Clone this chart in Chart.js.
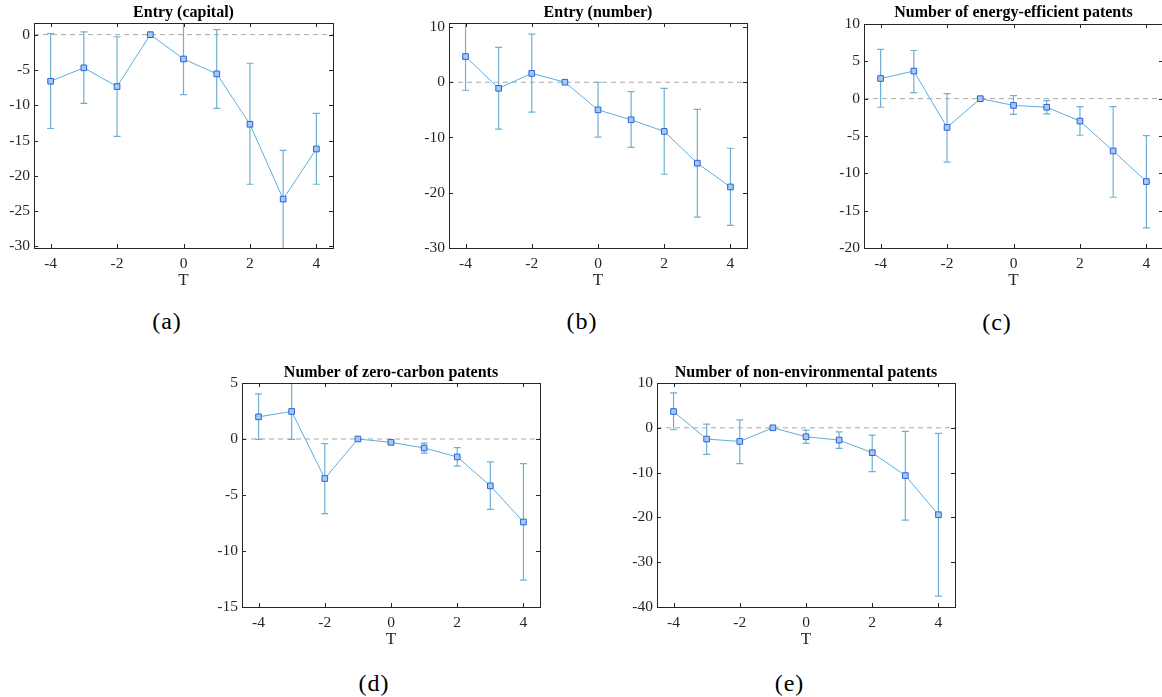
<!DOCTYPE html>
<html><head><meta charset="utf-8">
<script src="https://cdn.jsdelivr.net/npm/chart.js@4.4.1/dist/chart.umd.min.js"></script>
<style>
html,body{margin:0;padding:0;background:#fff;width:1162px;height:697px;overflow:hidden;position:relative}
canvas{position:absolute}
.cap{position:absolute;width:100px;text-align:center;font-family:'Liberation Serif',serif;font-size:24px;line-height:24px;color:#000;letter-spacing:1px}
</style></head><body>
<canvas id="pa"></canvas><canvas id="pb"></canvas><canvas id="pc"></canvas><canvas id="pd"></canvas><canvas id="pe"></canvas>
<div class="cap" id="ca">(a)</div><div class="cap" id="cb">(b)</div><div class="cap" id="cc">(c)</div><div class="cap" id="cd">(d)</div><div class="cap" id="ce">(e)</div>
<script>
// ---- data ----
const T = [-4, -3, -2, -1, 0, 1, 2, 3, 4];
const xTicks = [-4, -2, 0, 2, 4];

const capitalEst  = [-6.6, -4.7, -7.35, 0, -3.45, -5.55, -12.7, -23.3, -16.2];
const capitalLow  = [-13.3, -9.75, -14.4, 0, -8.5, -10.45, -21.2, -30.4, -21.2];
const capitalHigh = [0.15, 0.4, -0.3, 0, 1.7, 0.7, -4.05, -16.4, -11.15];
const capitalTicks = [-30, -25, -20, -15, -10, -5, 0];

const numberEst  = [4.65, -1.1, 1.6, 0, -5.0, -6.8, -8.9, -14.65, -18.95];
const numberLow  = [-1.45, -8.5, -5.4, 0, -9.95, -11.8, -16.65, -24.4, -25.9];
const numberHigh = [10.8, 6.3, 8.7, 0, 0, -1.7, -1.1, -4.9, -11.95];
const numberTicks = [-30, -20, -10, 0, 10];

const energyEst  = [2.7, 3.7, -3.85, 0, -0.9, -1.15, -3.0, -7.0, -11.1];
const energyLow  = [-1.15, 0.8, -8.5, 0, -2.1, -2.05, -4.9, -13.2, -17.3];
const energyHigh = [6.6, 6.45, 0.67, 0, 0.4, -0.27, -1.07, -1.07, -4.95];
const energyTicks = [-20, -15, -10, -5, 0, 5, 10];

const zeroEst  = [1.98, 2.46, -3.53, 0, -0.3, -0.8, -1.6, -4.18, -7.41];
const zeroLow  = [-0.03, -0.03, -6.67, 0, -0.4, -1.27, -2.43, -6.28, -12.6];
const zeroHigh = [4.03, 5.1, -0.41, 0, -0.2, -0.36, -0.77, -2.04, -2.19];
const zeroTicks = [-15, -10, -5, 0, 5];

const nonEnvEst  = [3.63, -2.52, -3.04, 0, -2.0, -2.74, -5.56, -10.67, -19.4];
const nonEnvLow  = [-0.44, -5.93, -8.0, 0, -3.48, -4.6, -9.78, -20.6, -37.56];
const nonEnvHigh = [7.78, 0.81, 1.78, 0, -0.52, -0.89, -1.63, -0.81, -1.26];
const nonEnvTicks = [-40, -30, -20, -10, 0, 10];

// ---- plugins ----
const errorBars = {
  id: 'errorBars',
  beforeDatasetsDraw(chart, args, o) {
    const {ctx, chartArea: a, scales: {x, y}} = chart;
    ctx.save();
    ctx.beginPath(); ctx.rect(a.left, a.top, a.right - a.left, a.bottom - a.top); ctx.clip();
    const y0 = y.getPixelForValue(0);
    ctx.strokeStyle = '#a8a8a8'; ctx.lineWidth = 1; ctx.setLineDash([5, 4]);
    ctx.beginPath(); ctx.moveTo(a.left, y0); ctx.lineTo(a.right, y0); ctx.stroke();
    ctx.setLineDash([]);
    ctx.strokeStyle = o.color; ctx.lineWidth = o.width;
    o.xs.forEach((t, i) => {
      if (o.low[i] === o.high[i]) return;
      const px = x.getPixelForValue(t);
      const pl = y.getPixelForValue(o.low[i]);
      const ph = y.getPixelForValue(o.high[i]);
      ctx.beginPath();
      ctx.moveTo(px, pl); ctx.lineTo(px, ph);
      ctx.moveTo(px - o.cap, pl); ctx.lineTo(px + o.cap, pl);
      ctx.moveTo(px - o.cap, ph); ctx.lineTo(px + o.cap, ph);
      ctx.stroke();
    });
    ctx.restore();
  }
};
const matBox = {
  id: 'matBox',
  afterDraw(chart) {
    const {ctx, chartArea: a, scales: {x, y}} = chart;
    ctx.save();
    ctx.strokeStyle = '#262626'; ctx.lineWidth = 1;
    ctx.strokeRect(Math.round(a.left) + 0.5, Math.round(a.top) + 0.5, Math.round(a.right - a.left), Math.round(a.bottom - a.top));
    const L = 4;
    ctx.beginPath();
    x.ticks.forEach(t => {
      const px = Math.round(x.getPixelForValue(t.value)) + 0.5;
      ctx.moveTo(px, a.bottom); ctx.lineTo(px, a.bottom - L);
      ctx.moveTo(px, a.top); ctx.lineTo(px, a.top + L);
    });
    y.ticks.forEach(t => {
      const py = Math.round(y.getPixelForValue(t.value)) + 0.5;
      ctx.moveTo(a.left, py); ctx.lineTo(a.left + L, py);
      ctx.moveTo(a.right, py); ctx.lineTo(a.right - L, py);
    });
    ctx.stroke();
    ctx.restore();
  }
};

Chart.defaults.font.family = "'Liberation Serif', serif";

function panel(id, box, title, titleY, yMin, yMax, yTicks, est, low, high, capId, capX, capY) {
  const W = box.r - box.l, H = box.b - box.t;
  const padL = 50, padT = 40, padR = 10, padB = 50;
  const cv = document.getElementById(id);
  cv.width = W + padL + padR; cv.height = H + padT + padB;
  cv.style.left = (box.l - padL) + 'px'; cv.style.top = (box.t - padT) + 'px';
  const titleH = 2 * (box.t - titleY);
  new Chart(cv, {
    type: 'line',
    data: {
      datasets: [{
        data: T.map((t, i) => ({x: t, y: est[i]})),
        borderColor: '#5aaee0', borderWidth: 1, tension: 0,
        pointStyle: 'rect', pointRadius: 4, pointBorderWidth: 1,
        pointBorderColor: '#2c62d8', pointBackgroundColor: '#a6c8f5'
      }]
    },
    options: {
      responsive: false, animation: false, devicePixelRatio: 1,
      layout: {padding: {left: 0, right: padR, top: padT - titleH, bottom: 0}},
      plugins: {
        legend: {display: false}, tooltip: {enabled: false},
        title: {display: true, fullSize: false, text: title, color: '#000', padding: 0,
          font: {size: 16, weight: 'bold', lineHeight: titleH / 16}},
        errorBars: {xs: T, low: low, high: high, color: '#6fb0d2', width: 1.2, cap: 3.5}
      },
      scales: {
        x: {
          type: 'linear', position: 'bottom', min: -4.5, max: 4.5,
          afterBuildTicks: s => { s.ticks = xTicks.map(v => ({value: v})); },
          afterFit: s => { s.height = padB; },
          grid: {display: false, drawTicks: false}, border: {display: false},
          ticks: {color: '#262626', font: {size: 15.5}, padding: 6.4, callback: v => String(v)},
          title: {display: true, text: 'T', color: '#262626', font: {size: 17}, padding: {top: 0, bottom: 6.8}}
        },
        y: {
          type: 'linear', min: yMin, max: yMax,
          afterBuildTicks: s => { s.ticks = yTicks.map(v => ({value: v})); },
          afterFit: s => { s.width = padL; },
          grid: {display: false, drawTicks: false}, border: {display: false},
          ticks: {color: '#262626', font: {size: 15.5}, padding: 4, callback: v => String(v)}
        }
      }
    },
    plugins: [errorBars, matBox]
  });
  const c = document.getElementById(capId);
  c.style.left = (capX - 50) + 'px'; c.style.top = (capY - 12) + 'px';
}

panel('pa', {l: 34, r: 333, t: 22.7, b: 248.3}, 'Entry (capital)', 13, -30.23, 1.65, capitalTicks, capitalEst, capitalLow, capitalHigh, 'ca', 167, 321);
panel('pb', {l: 449.3, r: 747.7, t: 23.3, b: 248.3}, 'Entry (number)', 13.3, -30, 10.72, numberTicks, numberEst, numberLow, numberHigh, 'cb', 582, 321);
panel('pc', {l: 864.3, r: 1163.3, t: 24, b: 248.3}, 'Number of energy-efficient patents', 13.3, -20, 10, energyTicks, energyEst, energyLow, energyHigh, 'cc', 997, 322);
panel('pd', {l: 242, r: 540.5, t: 383.3, b: 608.3}, 'Number of zero-carbon patents', 373.3, -15, 5, zeroTicks, zeroEst, zeroLow, zeroHigh, 'cd', 374, 683);
panel('pe', {l: 656.7, r: 955, t: 383.3, b: 608.3}, 'Number of non-environmental patents', 373.3, -40, 10, nonEnvTicks, nonEnvEst, nonEnvLow, nonEnvHigh, 'ce', 789.5, 683);
</script>
</body></html>
